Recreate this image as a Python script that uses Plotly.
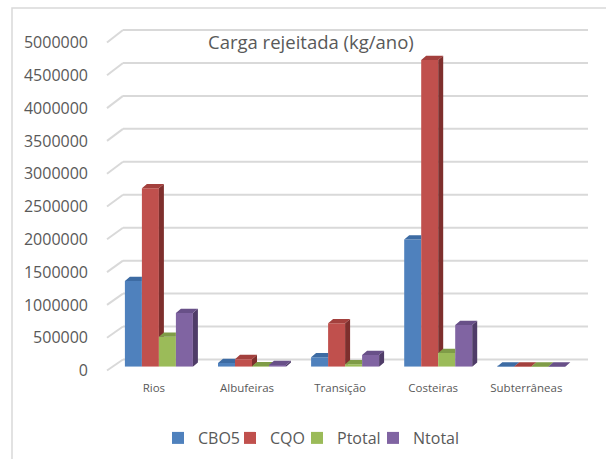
import plotly.graph_objects as go

# ---------------- data ----------------
categories = ["Rios", "Albufeiras", "Transição", "Costeiras", "Subterrâneas"]
series_names = ["CBO5", "CQO", "Ptotal", "Ntotal"]
cbo5 = [1306000, 55000, 143000, 1940000, 2000]
cqo = [2720000, 115000, 662000, 4675000, 4000]
ptotal = [457000, 8000, 37000, 209000, 500]
ntotal = [818000, 25000, 178000, 636000, 1000]
y_tick_values = list(range(0, 5000001, 500000))
title_text = "Carga rejeitada (kg/ano)"

# ---------------- style ----------------
front_colors = ["#4F81BD", "#C0504D", "#9BBB59", "#8064A2"]
top_colors = ["#3D6BA3", "#A3403D", "#7F9C47", "#685088"]
side_colors = ["#2F5481", "#7E2F2D", "#62793A", "#4F3C68"]
text_color = "#595959"
grid_color = "#D9D9D9"
FONT = "Open Sans"

W, H = 606, 459
def px(p):
    return p / W
def py(p):
    return 1 - p / H

# pixel geometry
front_bottom, front_top = 370.5, 42.5     # front plane 0 and 5M
back_bottom, back_top = 359.5, 30.0       # back wall 0 and 5M
front_left, back_left, right_edge = 107.0, 123.0, 588.0
bar_shift = 3.8                           # bars sit slightly behind front plane
unit_px = 93.1                            # px per category
center0_px = 158.9
bar_w_px = 17.0
depth_dx_px, depth_dy_px = 5.0, 4.3
legend_text_starts = [199.5, 271.5, 338.5, 414.5]   # legend entry text positions (px)

ymax = 5000000
px_per_val = (front_bottom - front_top) / ymax
xr0 = -(center0_px - front_left) / unit_px
xr1 = (right_edge - center0_px) / unit_px
w = bar_w_px / unit_px
dx = depth_dx_px / unit_px
dy = depth_dy_px / px_per_val

series_values = [cbo5, cqo, ptotal, ntotal]
offsets = [(k - 1.5) * w for k in range(4)]
legend_ids = ["legend", "legend2", "legend3", "legend4"]

fig = go.Figure()

# front faces (bars)
for k, name in enumerate(series_names):
    fig.add_trace(go.Bar(
        x=[i + offsets[k] for i in range(len(categories))],
        y=series_values[k],
        width=w,
        name=name,
        legend=legend_ids[k],
        marker=dict(color=front_colors[k], line=dict(width=0)),
        xaxis="x", yaxis="y2",
        hoverinfo="y+name",
    ))

def clip_above(poly, c):
    out = []
    n = len(poly)
    for idx in range(n):
        (xa, ya), (xb, yb) = poly[idx], poly[(idx + 1) % n]
        ina, inb = ya >= c, yb >= c
        if ina:
            out.append((xa, ya))
        if ina != inb:
            t = (c - ya) / (yb - ya)
            out.append((xa + t * (xb - xa), c))
    return out

# side & top faces (3D effect), computed from the values
for k in range(4):
    sx, sy, tx, ty = [], [], [], []
    for i in range(len(categories)):
        v = series_values[k][i]
        vn = series_values[k + 1][i] if k < 3 else 0
        x0 = i + offsets[k] - w / 2
        x1 = x0 + w
        side = [(x1, 0), (x1, v), (x1 + dx, v + dy), (x1 + dx, dy)]
        if vn > 0:
            side = clip_above(side, vn)
        if len(side) >= 3:
            for (a, b) in side + [side[0]]:
                sx.append(a); sy.append(b)
            sx.append(None); sy.append(None)
        if vn <= v:
            top = [(x0, v), (x1, v), (x1 + dx, v + dy), (x0 + dx, v + dy)]
        elif vn >= v + dy:
            top = [(x0, v), (x1, v), (x1, v + dy), (x0 + dx, v + dy)]
        else:
            top = [(x0, v), (x1, v), (x1, vn), (x1 + dx * (vn - v) / dy, vn),
                   (x1 + dx, v + dy), (x0 + dx, v + dy)]
        for (a, b) in top + [top[0]]:
            tx.append(a); ty.append(b)
        tx.append(None); ty.append(None)
    fig.add_trace(go.Scatter(x=sx, y=sy, mode="lines", fill="toself",
                             fillcolor=side_colors[k], line=dict(width=0, color=side_colors[k]),
                             xaxis="x", yaxis="y2", showlegend=False, hoverinfo="skip"))
    fig.add_trace(go.Scatter(x=tx, y=ty, mode="lines", fill="toself",
                             fillcolor=top_colors[k], line=dict(width=0, color=top_colors[k]),
                             xaxis="x", yaxis="y2", showlegend=False, hoverinfo="skip"))

# empty trace so the front-plane axis (with the tick labels) gets a subplot
fig.add_trace(go.Scatter(x=[None], y=[None], xaxis="x", yaxis="y",
                         showlegend=False, hoverinfo="skip", mode="markers"))

# back wall gridlines + left slants (decoration)
shapes = []
for v in y_tick_values:
    yf = front_bottom - v * px_per_val
    yb = back_bottom - v * (back_bottom - back_top) / ymax
    shapes.append(dict(type="line", xref="paper", yref="paper",
                       x0=px(back_left), x1=px(right_edge), y0=py(yb), y1=py(yb),
                       line=dict(color=grid_color, width=2), layer="below"))
    shapes.append(dict(type="line", xref="paper", yref="paper",
                       x0=px(front_left), x1=px(back_left), y0=py(yf), y1=py(yb),
                       line=dict(color=grid_color, width=2), layer="below"))
# chart border
shapes.append(dict(type="rect", xref="paper", yref="paper",
                   x0=px(12), x1=px(640), y0=py(8), y1=py(490),
                   line=dict(color=grid_color, width=1.5), layer="below"))

legend_layouts = {}
for k, lid in enumerate(legend_ids):
    legend_layouts[lid] = dict(
        orientation="h", x=px(legend_text_starts[k] - 41.5), y=py(438),
        xanchor="left", yanchor="middle",
        font=dict(size=16, color=text_color, family=FONT),
        bgcolor="rgba(0,0,0,0)", itemwidth=30)

fig.update_layout(
    width=W, height=H,
    margin=dict(l=0, r=0, t=0, b=0, autoexpand=False),
    paper_bgcolor="white", plot_bgcolor="rgba(0,0,0,0)",
    barmode="overlay",
    font=dict(family=FONT, color=text_color),
    shapes=shapes,
    xaxis=dict(domain=[px(front_left), px(right_edge)], range=[xr0, xr1],
               anchor="y", automargin=False,
               tickmode="array", tickvals=list(range(len(categories))), ticktext=categories,
               showgrid=False, zeroline=False, showline=False, ticks="",
               ticklabelshift=-5, ticklabelstandoff=9,
               tickfont=dict(size=11.5, color=text_color, family=FONT)),
    yaxis=dict(domain=[py(front_bottom), py(front_top)], range=[0, ymax],
               anchor="x", showticklabels=True, automargin=False,
               tickmode="array", tickvals=y_tick_values,
               ticktext=[str(v) for v in y_tick_values],
               showgrid=False, zeroline=False, showline=False, ticks="",
               ticklabelstandoff=18,
               tickfont=dict(size=16, color=text_color, family=FONT)),
    yaxis2=dict(domain=[py(front_bottom - bar_shift), py(front_top - bar_shift)],
                range=[0, ymax], anchor="x", visible=False, automargin=False),
    annotations=[dict(text=title_text, x=px(310.5), y=py(41.7), xref="paper", yref="paper",
                      showarrow=False, xanchor="center", yanchor="middle",
                      font=dict(size=18.5, color=text_color, family=FONT))],
    **legend_layouts,
)

fig.write_html("out.html", config={"displayModeBar": False})

# remove the browser's default page margin so the figure sits at (0, 0)
with open("out.html", "r", encoding="utf-8") as f:
    html = f.read()
html = html.replace("<head>", "<head><style>html,body{margin:0;padding:0;overflow:hidden;}</style>", 1)
with open("out.html", "w", encoding="utf-8") as f:
    f.write(html)
